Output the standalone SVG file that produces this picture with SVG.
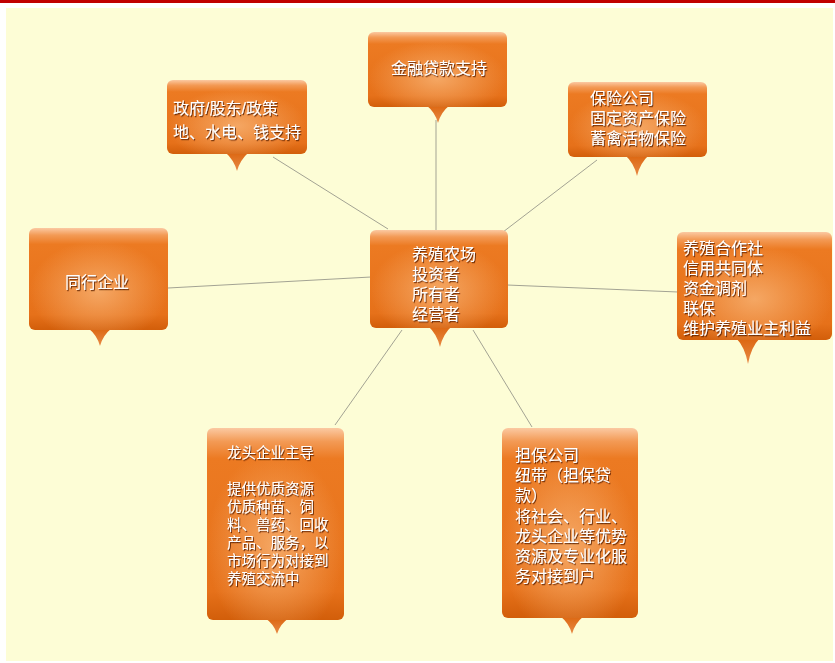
<svg xmlns="http://www.w3.org/2000/svg" width="835" height="663" viewBox="0 0 835 663">
<defs>
<linearGradient id="gBox" x1="0" y1="0" x2="0" y2="1">
<stop offset="0" stop-color="#fbc9a2"/>
<stop offset="0.07" stop-color="#f39a55"/>
<stop offset="0.16" stop-color="#ec7a22"/>
<stop offset="0.85" stop-color="#e6711a"/>
<stop offset="1" stop-color="#d25e0a"/>
</linearGradient>
<radialGradient id="gGlow" cx="0.5" cy="0.62" r="0.5">
<stop offset="0" stop-color="#f7b070" stop-opacity="0.85"/>
<stop offset="1" stop-color="#f7b070" stop-opacity="0"/>
</radialGradient>
<linearGradient id="gTail" x1="0" y1="0" x2="0" y2="1">
<stop offset="0" stop-color="#dc6610"/>
<stop offset="1" stop-color="#e88a45"/>
</linearGradient>
<filter id="sh" x="-10%" y="-30%" width="120%" height="160%">
<feDropShadow dx="1" dy="1.2" stdDeviation="0.7" flood-color="#5a2400" flood-opacity="0.85"/>
</filter>
</defs>
<style>
.box{fill:url(#gBox);}
.glow{fill:url(#gGlow);}
.tail{fill:url(#gTail);}
.t{font-family:"Liberation Sans","Noto Sans CJK SC",sans-serif;font-size:16px;fill:#ffffff;filter:url(#sh);}
.s{font-size:14.5px;}
.c{text-anchor:middle;}
.ln{stroke:#a3a393;stroke-width:1;fill:none;}
</style>
<rect x="0" y="0" width="835" height="663" fill="#ffffff"/>
<rect x="0" y="0" width="835" height="3" fill="#c00000"/>
<rect x="6" y="8" width="827" height="653" fill="#fdfdd6"/>

<g id="connectors">
<line class="ln" x1="273" y1="157" x2="388" y2="229"/>
<line class="ln" x1="436" y1="120" x2="436" y2="231"/>
<line class="ln" x1="597" y1="160" x2="503" y2="232"/>
<line class="ln" x1="168" y1="288" x2="371" y2="277"/>
<line class="ln" x1="507" y1="285" x2="678" y2="292"/>
<line class="ln" x1="402" y1="330" x2="335" y2="425"/>
<line class="ln" x1="473" y1="330" x2="532" y2="427"/>
</g>

<g id="n-gov">
<path class="tail" d="M225 152 L249 152 Q240 160 237 171 Q234 160 225 152 Z"/>
<rect class="box" x="167" y="80" width="140" height="74" rx="6"/>
<rect class="glow" x="167" y="80" width="140" height="74" rx="6"/>
<text class="t" x="173" y="114">政府/股东/政策<tspan x="173" dy="24">地、水电、钱支持</tspan></text>
</g>

<g id="n-loan">
<path class="tail" d="M426 105 L450 105 Q441 112 438 123 Q435 112 426 105 Z"/>
<rect class="box" x="368" y="32" width="139" height="75" rx="6"/>
<rect class="glow" x="368" y="32" width="139" height="75" rx="6"/>
<text class="t c" x="439" y="74">金融贷款支持</text>
</g>

<g id="n-ins">
<path class="tail" d="M625 155 L649 155 Q640 163 637 176 Q634 163 625 155 Z"/>
<rect class="box" x="568" y="82" width="139" height="75" rx="6"/>
<rect class="glow" x="568" y="82" width="139" height="75" rx="6"/>
<text class="t" x="590" y="104">保险公司<tspan x="590" dy="20">固定资产保险</tspan><tspan x="590" dy="20">蓄禽活物保险</tspan></text>
</g>

<g id="n-peer">
<path class="tail" d="M88 328 L112 328 Q103 335 100 346 Q97 335 88 328 Z"/>
<rect class="box" x="29" y="228" width="139" height="102" rx="6"/>
<rect class="glow" x="29" y="228" width="139" height="102" rx="6"/>
<text class="t c" x="97" y="288">同行企业</text>
</g>

<g id="n-farm">
<path class="tail" d="M428 326 L452 326 Q443 334 440 347 Q437 334 428 326 Z"/>
<rect class="box" x="370" y="230" width="138" height="98" rx="6"/>
<rect class="glow" x="370" y="230" width="138" height="98" rx="6"/>
<text class="t" x="412" y="260">养殖农场<tspan x="412" dy="20">投资者</tspan><tspan x="412" dy="20">所有者</tspan><tspan x="412" dy="20">经营者</tspan></text>
</g>

<g id="n-coop">
<path class="tail" d="M736 338 L760 338 Q751 347 748 364 Q745 347 736 338 Z"/>
<rect class="box" x="677" y="232" width="155" height="108" rx="6"/>
<rect class="glow" x="677" y="232" width="155" height="108" rx="6"/>
<text class="t" x="683" y="254">养殖合作社<tspan x="683" dy="20">信用共同体</tspan><tspan x="683" dy="20">资金调剂</tspan><tspan x="683" dy="20">联保</tspan><tspan x="683" dy="20">维护养殖业主利益</tspan></text>
</g>

<g id="n-lead">
<path class="tail" d="M265 618 L289 618 Q280 624 277 634 Q274 624 265 618 Z"/>
<rect class="box" x="207" y="428" width="137" height="192" rx="6"/>
<rect class="glow" x="207" y="428" width="137" height="192" rx="6"/>
<text class="t s" x="227" y="458">龙头企业主导<tspan x="227" dy="36">提供优质资源</tspan><tspan x="227" dy="18">优质种苗、饲</tspan><tspan x="227" dy="18">料、兽药、回收</tspan><tspan x="227" dy="18">产品、服务，以</tspan><tspan x="227" dy="18">市场行为对接到</tspan><tspan x="227" dy="18">养殖交流中</tspan></text>
</g>

<g id="n-guar">
<path class="tail" d="M560 616 L584 616 Q575 623 572 634 Q569 623 560 616 Z"/>
<rect class="box" x="502" y="428" width="136" height="190" rx="6"/>
<rect class="glow" x="502" y="428" width="136" height="190" rx="6"/>
<text class="t" x="515" y="461">担保公司<tspan x="515" dy="20">纽带（担保贷</tspan><tspan x="515" dy="20">款）</tspan><tspan x="515" dy="21">将社会、行业、</tspan><tspan x="515" dy="20">龙头企业等优势</tspan><tspan x="515" dy="20">资源及专业化服</tspan><tspan x="515" dy="20">务对接到户</tspan></text>
</g>
</svg>
